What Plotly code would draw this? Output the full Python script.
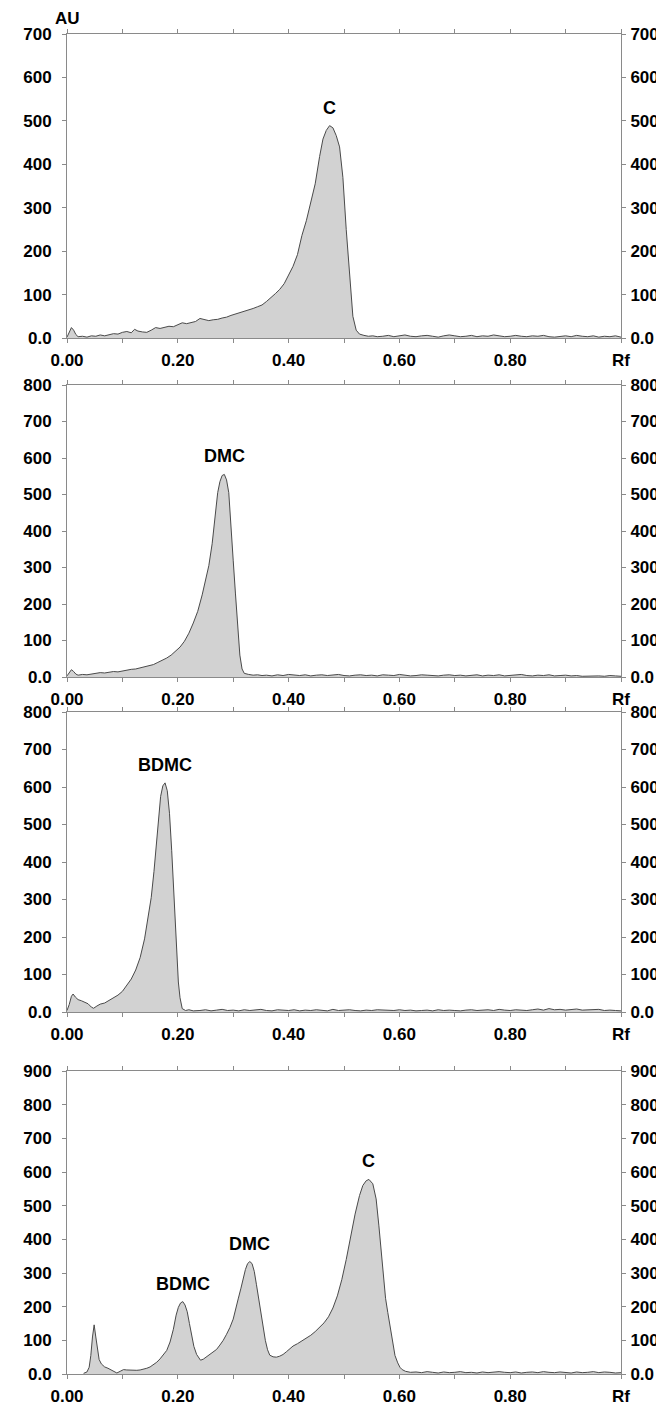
import numpy as np
import plotly.graph_objects as go

# ---------------- data ----------------
# Panel 1: curcumin (C)
rf1 = [0.000, 0.004, 0.008, 0.012, 0.016, 0.020, 0.028, 0.036, 0.044, 0.052,
       0.060, 0.068, 0.076, 0.084, 0.092, 0.100, 0.108, 0.116, 0.122, 0.128,
       0.136, 0.144, 0.152, 0.160, 0.168, 0.176, 0.184, 0.192, 0.200, 0.208,
       0.216, 0.224, 0.232, 0.240, 0.248, 0.256, 0.264, 0.272, 0.280, 0.288,
       0.296, 0.304, 0.312, 0.320, 0.328, 0.336, 0.344, 0.352, 0.360, 0.368,
       0.376, 0.384, 0.392, 0.400, 0.408, 0.416, 0.424, 0.432, 0.440, 0.448,
       0.456, 0.462, 0.468, 0.474, 0.480, 0.486, 0.492, 0.498, 0.504, 0.510,
       0.516, 0.522, 0.528, 0.536, 0.544, 0.552, 0.560,
       0.57, 0.58, 0.59, 0.60, 0.61, 0.62, 0.63, 0.64, 0.65, 0.66,
       0.67, 0.68, 0.69, 0.70, 0.71, 0.72, 0.73, 0.74, 0.75, 0.76,
       0.77, 0.78, 0.79, 0.80, 0.81, 0.82, 0.83, 0.84, 0.85, 0.86,
       0.87, 0.88, 0.89, 0.90, 0.91, 0.92, 0.93, 0.94, 0.95, 0.96,
       0.97, 0.98, 0.99, 1.00]
au1 = [2, 14, 24, 18, 8, 3, 4, 2, 5, 4,
       7, 5, 8, 10, 9, 13, 15, 12, 20, 16,
       14, 13, 18, 24, 22, 25, 27, 26, 30, 35,
       33, 36, 38, 45, 42, 40, 42, 43, 46, 48,
       52, 55, 58, 62, 64, 68, 72, 76, 84, 92,
       102, 112, 125, 145, 165, 192, 236, 270, 312, 355,
       418, 458, 478, 489, 484, 466, 440, 370, 250, 150,
       50, 18, 9, 6, 4, 5, 3,
       4, 6, 3, 5, 7, 4, 3, 5, 6, 4,
       2, 5, 7, 5, 3, 4, 6, 3, 5, 4,
       7, 5, 3, 4, 6, 4, 3, 5, 4, 6,
       3, 2, 4, 5, 3, 6, 4, 3, 5, 2,
       4, 3, 5, 2]

# Panel 2: demethoxycurcumin (DMC)
rf2 = [0.000, 0.004, 0.008, 0.012, 0.016, 0.020, 0.028, 0.036, 0.044, 0.052,
       0.060, 0.068, 0.076, 0.084, 0.092, 0.100, 0.108, 0.116, 0.124, 0.132,
       0.140, 0.148, 0.156, 0.164, 0.172, 0.180, 0.188, 0.196, 0.204, 0.212,
       0.220, 0.228, 0.236, 0.244, 0.250, 0.256, 0.262, 0.268, 0.272, 0.276,
       0.280, 0.284, 0.288, 0.292, 0.296, 0.300, 0.304, 0.308, 0.312, 0.316,
       0.320, 0.328, 0.336, 0.344, 0.352,
       0.36, 0.37, 0.38, 0.39, 0.40, 0.41, 0.42, 0.43, 0.44, 0.45,
       0.46, 0.47, 0.48, 0.49, 0.50, 0.51, 0.52, 0.53, 0.54, 0.55,
       0.56, 0.57, 0.58, 0.59, 0.60, 0.61, 0.62, 0.63, 0.64, 0.65,
       0.66, 0.67, 0.68, 0.69, 0.70, 0.71, 0.72, 0.73, 0.74, 0.75,
       0.76, 0.77, 0.78, 0.79, 0.80, 0.81, 0.82, 0.83, 0.84, 0.85,
       0.86, 0.87, 0.88, 0.89, 0.90, 0.91, 0.92, 0.93, 0.94, 0.95,
       0.96, 0.97, 0.98, 0.99, 1.00]
au2 = [3, 12, 20, 15, 8, 5, 7, 6, 8, 10,
       12, 11, 14, 15, 14, 17, 19, 21, 22, 25,
       28, 31, 34, 40, 45, 52, 60, 70, 82, 98,
       120, 148, 180, 225, 262, 305, 365, 440, 505, 535,
       552, 555, 540, 505, 425, 320, 230, 135, 60, 22,
       10, 7, 5, 6, 4,
       5, 3, 6, 4, 7, 5, 4, 6, 3, 5,
       6, 4, 5, 7, 4, 3, 5, 6, 4, 5,
       3, 6, 5, 4, 7, 5, 3, 4, 6, 5,
       4, 3, 5, 6, 4, 5, 3, 4, 6, 3,
       5, 4, 6, 3, 4, 5, 7, 4, 3, 5,
       4, 6, 3, 4, 5, 3, 4, 2, 3, 4,
       3, 2, 4, 3, 2]

# Panel 3: bisdemethoxycurcumin (BDMC)
rf3 = [0.000, 0.004, 0.008, 0.011, 0.015, 0.020, 0.026, 0.032, 0.038, 0.044,
       0.048, 0.054, 0.060, 0.068, 0.076, 0.084, 0.092, 0.100, 0.108, 0.116,
       0.124, 0.132, 0.140, 0.146, 0.152, 0.157, 0.161, 0.165, 0.169, 0.173,
       0.177, 0.181, 0.185, 0.189, 0.192, 0.195, 0.198, 0.201, 0.204, 0.208,
       0.214, 0.220, 0.228, 0.236,
       0.24, 0.25, 0.26, 0.27, 0.28, 0.29, 0.30, 0.31, 0.32, 0.33,
       0.34, 0.35, 0.36, 0.37, 0.38, 0.39, 0.40, 0.41, 0.42, 0.43,
       0.44, 0.45, 0.46, 0.47, 0.48, 0.49, 0.50, 0.51, 0.52, 0.53,
       0.54, 0.55, 0.56, 0.57, 0.58, 0.59, 0.60, 0.61, 0.62, 0.63,
       0.64, 0.65, 0.66, 0.67, 0.68, 0.69, 0.70, 0.71, 0.72, 0.73,
       0.74, 0.75, 0.76, 0.77, 0.78, 0.79, 0.80, 0.81, 0.82, 0.83,
       0.84, 0.85, 0.86, 0.87, 0.88, 0.89, 0.90, 0.91, 0.92, 0.93,
       0.94, 0.95, 0.96, 0.97, 0.98, 0.99, 1.00]
au3 = [4, 20, 42, 48, 40, 33, 30, 26, 22, 13,
       10, 16, 21, 24, 31, 36, 45, 55, 70, 88,
       112, 145, 195, 245, 305, 375, 440, 520, 575, 603,
       611, 590, 530, 430, 345, 255, 155, 80, 38, 9,
       4, 6, 3, 5,
       4, 6, 3, 5, 7, 4, 5, 3, 6, 4,
       5, 7, 4, 3, 6, 5, 4, 6, 3, 5,
       4, 6, 5, 3, 7, 4, 5, 6, 4, 3,
       5, 4, 6, 5, 3, 4, 6, 4, 5, 3,
       4, 5, 3, 6, 4, 5, 4, 3, 5, 6,
       4, 5, 6, 4, 7, 5, 4, 6, 5, 4,
       6, 8, 5, 9, 6, 7, 5, 6, 8, 5,
       6, 5, 7, 4, 5, 4, 3]

# Panel 4: mixture (BDMC, DMC, C)
rf4 = [0.030, 0.036, 0.040, 0.043, 0.046, 0.049, 0.052, 0.055, 0.058, 0.062,
       0.068, 0.074, 0.080, 0.086, 0.090, 0.096, 0.102, 0.108, 0.114, 0.120,
       0.126, 0.132, 0.138, 0.144, 0.150, 0.156, 0.162, 0.168, 0.174, 0.180,
       0.186, 0.192, 0.197, 0.201, 0.205, 0.209, 0.213, 0.217, 0.221, 0.225,
       0.229, 0.234, 0.238, 0.241, 0.246, 0.252, 0.258, 0.264, 0.270, 0.276,
       0.282, 0.288, 0.294, 0.300, 0.305, 0.309, 0.314, 0.318, 0.322, 0.326,
       0.330, 0.334, 0.338, 0.342, 0.346, 0.350, 0.354, 0.358, 0.362, 0.366,
       0.372, 0.378, 0.384, 0.390, 0.396, 0.402, 0.408, 0.416, 0.424, 0.432,
       0.440, 0.448, 0.456, 0.464, 0.472, 0.480, 0.488, 0.496, 0.504, 0.512,
       0.520, 0.528, 0.534, 0.540, 0.545, 0.552, 0.558, 0.563, 0.567, 0.571,
       0.575, 0.579, 0.584, 0.588, 0.592, 0.597, 0.601, 0.605, 0.611, 0.620,
       0.63, 0.64, 0.65, 0.66, 0.67, 0.68, 0.69, 0.70, 0.71, 0.72,
       0.73, 0.74, 0.75, 0.76, 0.77, 0.78, 0.79, 0.80, 0.81, 0.82,
       0.83, 0.84, 0.85, 0.86, 0.87, 0.88, 0.89, 0.90, 0.91, 0.92,
       0.93, 0.94, 0.95, 0.96, 0.97, 0.98, 0.99, 1.00]
au4 = [2, 6, 20, 55, 110, 146, 110, 70, 43, 30,
       21, 17, 12, 5, 3, 8, 13, 12, 11, 10,
       11, 12, 14, 17, 21, 27, 35, 45, 56, 70,
       95, 133, 175, 198, 211, 215, 205, 185, 150, 113,
       82, 58, 46, 41, 44, 51, 57, 64, 73, 86,
       100, 118, 138, 163, 192, 223, 255, 283, 310, 328,
       334, 328, 305, 265, 220, 175, 135, 100, 72, 56,
       51, 50, 53, 58, 66, 74, 83, 90, 98, 106,
       115, 126, 138, 152, 170, 196, 232, 280, 340, 410,
       475, 530, 560, 574, 578, 565, 520, 440, 360, 282,
       225, 183, 130, 83, 55, 33, 20, 13, 8, 5,
       6, 4, 7, 5, 3, 6, 4, 5, 7, 4,
       5, 3, 6, 4, 5, 7, 5, 4, 6, 3,
       5, 6, 4, 7, 5, 4, 6, 5, 3, 6,
       4, 5, 7, 4, 6, 5, 3, 4]

# peak labels
labels1 = ["C"]
labels2 = ["DMC"]
labels3 = ["BDMC"]
labels4 = ["BDMC", "DMC", "C"]
label_rf4 = [0.209, 0.330, 0.545]

# axis ticks
x_tickvals = [0.0, 0.1, 0.2, 0.3, 0.4, 0.5, 0.6, 0.7, 0.8, 0.9, 1.0]
x_ticktext = ["0.00", "", "0.20", "", "0.40", "", "0.60", "", "0.80", "", "Rf"]
y_max = [700, 800, 800, 900]
y_ticktext_zero = "0.0"

# ---------------- figure ----------------
# The page body has an 8px default margin, so the figure is drawn 8px
# smaller and all page-pixel positions are shifted by that offset.
OFF = 8
PAGE_W, PAGE_H = 664, 1423
W, H = PAGE_W - OFF, PAGE_H - OFF
# panel pixel extents (top, bottom) in page pixels
panel_px = [(34, 338), (385, 677), (712, 1012), (1071, 1374)]
left_px, right_px = 67, 621

AXC = "#8a8a8a"
FILL = "#d2d2d2"
LINEC = "#4a4a4a"
FONT = "Liberation Sans, Arial, sans-serif"
tickfont = dict(family=FONT, size=17, color="black", weight="bold")
labfont = dict(family=FONT, size=18, color="black", weight="bold")

data = [(rf1, au1), (rf2, au2), (rf3, au3), (rf4, au4)]
fig = go.Figure()
annotations = []
layout = {}

for i, (rf, au) in enumerate(data):
    n = i + 1
    xr = f"x{n}"
    yr = f"y{n}"
    yr2 = f"y{n + 4}"
    fig.add_trace(go.Scatter(x=rf, y=au, xaxis=xr, yaxis=yr, mode="lines",
                             line=dict(color=LINEC, width=1),
                             fill="tozeroy", fillcolor=FILL,
                             hoverinfo="skip", showlegend=False))
    # invisible companion trace so the right-hand axis is drawn
    fig.add_trace(go.Scatter(x=rf, y=au, xaxis=xr, yaxis=yr2, mode="lines",
                             line=dict(width=0), opacity=0,
                             hoverinfo="skip", showlegend=False))
    top, bot = panel_px[i]
    top -= OFF
    bot -= OFF
    dom = [(H - bot) / H, (H - top) / H]
    ymax = y_max[i]
    yvals = list(range(0, ymax + 1, 100))
    ytext = [y_ticktext_zero if v == 0 else str(v) for v in yvals]

    layout[f"xaxis{n}"] = dict(
        domain=[0, 1], anchor=yr, range=[0, 1], tickmode="array",
        tickvals=x_tickvals, ticktext=x_ticktext, ticks="outside", ticklen=4,
        tickcolor=AXC, showline=True, linecolor=AXC, linewidth=1,
        mirror="ticks", showgrid=False, zeroline=False, tickfont=tickfont,
        ticklabelstandoff=3, automargin=False, fixedrange=True)
    layout[f"yaxis{n}"] = dict(
        domain=dom, anchor=xr, range=[0, ymax], tickmode="array",
        tickvals=yvals, ticktext=ytext, ticks="outside", ticklen=4,
        tickcolor=AXC, showline=True, linecolor=AXC, linewidth=1,
        mirror=True, showgrid=False, zeroline=False, tickfont=tickfont,
        ticklabelstandoff=7, automargin=False, fixedrange=True)
    layout[f"yaxis{n + 4}"] = dict(
        overlaying=yr, side="right", anchor=xr, range=[0, ymax],
        tickmode="array", tickvals=yvals, ticktext=ytext, ticks="outside",
        ticklen=4, tickcolor=AXC, showline=False, showgrid=False,
        zeroline=False, tickfont=tickfont, ticklabelstandoff=1,
        automargin=False, fixedrange=True)

    # peak labels
    if n < 4:
        k = int(np.argmax(au))
        names = [labels1, labels2, labels3][i]
        pos = [(rf[k], au[k])]
    else:
        names = labels4
        pos = [(r, float(np.interp(r, rf, au))) for r in label_rf4]
    for name, (px, py) in zip(names, pos):
        annotations.append(dict(x=px, y=py, xref=xr, yref=yr, text=name,
                                showarrow=False, yanchor="middle",
                                xanchor="center", yshift=18, font=labfont))

annotations.append(dict(x=0.0, y=1 - (18 - OFF) / H, xref="paper",
                        yref="paper", text="AU", showarrow=False,
                        xanchor="center", yanchor="middle", font=tickfont))

fig.update_layout(**layout)
fig.update_layout(width=W, height=H, template="none",
                  margin=dict(l=left_px - OFF, r=PAGE_W - right_px,
                              t=0, b=0, pad=0),
                  paper_bgcolor="white", plot_bgcolor="white",
                  annotations=annotations, showlegend=False)

fig.write_html("out.html")
